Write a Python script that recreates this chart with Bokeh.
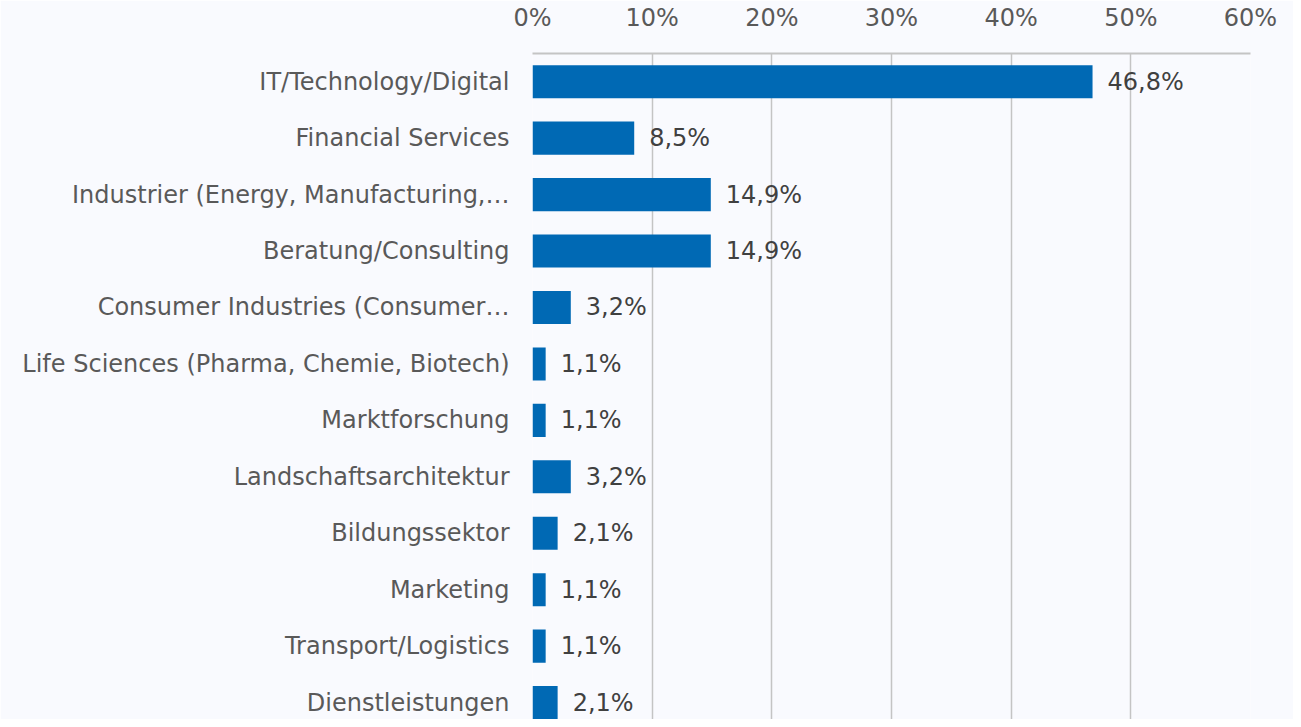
from bokeh.plotting import figure
from bokeh.models import ColumnDataSource, Range1d, FixedTicker, NumeralTickFormatter, LabelSet
from bokeh.core.properties import value
from bokeh.embed import file_html
from bokeh.resources import INLINE

categories = [
    "IT/Technology/Digital",
    "Financial Services",
    "Industrier (Energy, Manufacturing,\u2026",
    "Beratung/Consulting",
    "Consumer Industries (Consumer\u2026",
    "Life Sciences (Pharma, Chemie, Biotech)",
    "Marktforschung",
    "Landschaftsarchitektur",
    "Bildungssektor",
    "Marketing",
    "Transport/Logistics",
    "Dienstleistungen",
]
values = [46.8, 8.5, 14.9, 14.9, 3.2, 1.1, 1.1, 3.2, 2.1, 1.1, 1.1, 2.1]
x_ticks = [0, 0.1, 0.2, 0.3, 0.4, 0.5, 0.6]

FONT = "DejaVu Sans"
FS = "24px"
BG = "#f9fafe"

idx = list(range(len(categories)))
src = ColumnDataSource(dict(
    y=idx,
    v=[v / 100 for v in values],
    lbl=[f"{v:.1f}".replace(".", ",") + "%" for v in values],
))

p = figure(width=1293, height=719, output_backend="svg", toolbar_location=None,
           x_axis_location="above",
           x_range=Range1d(0, 0.6), y_range=Range1d(11.30, -0.5),
           min_border_left=532, min_border_right=43, min_border_top=48, min_border_bottom=0)
p.background_fill_color = BG
p.border_fill_color = BG
p.outline_line_color = None

p.hbar(y="y", right="v", left=0, height=0.586, source=src, color="#0069b4", line_color=None)

labels = LabelSet(x="v", y="y", text="lbl", source=src, x_offset=15, y_offset=0,
                  text_baseline="middle", text_align="left",
                  text_font=value(FONT), text_font_size=value(FS), text_color="#404040")
p.add_layout(labels)

xa = p.xaxis[0]
xa.ticker = FixedTicker(ticks=x_ticks)
xa.formatter = NumeralTickFormatter(format="0%")
xa.major_tick_line_color = None
xa.minor_tick_line_color = None
xa.axis_line_color = "#c4c4c4"
xa.axis_line_width = 2
xa.major_label_text_font = FONT
xa.major_label_text_font_size = FS
xa.major_label_text_color = "#595959"
xa.major_label_standoff = 16

ya = p.yaxis[0]
ya.ticker = FixedTicker(ticks=idx)
ya.major_label_overrides = {i: c for i, c in zip(idx, categories)}
ya.major_tick_line_color = None
ya.minor_tick_line_color = None
ya.axis_line_color = None
ya.major_label_text_font = FONT
ya.major_label_text_font_size = FS
ya.major_label_text_color = "#595959"
ya.major_label_standoff = 17

p.xgrid.ticker = FixedTicker(ticks=x_ticks)
p.xgrid.grid_line_color = "#c4c4c4"
p.xgrid.grid_line_width = 1.5
p.ygrid.grid_line_color = None

open("out.html", "w").write(file_html(p, INLINE))
